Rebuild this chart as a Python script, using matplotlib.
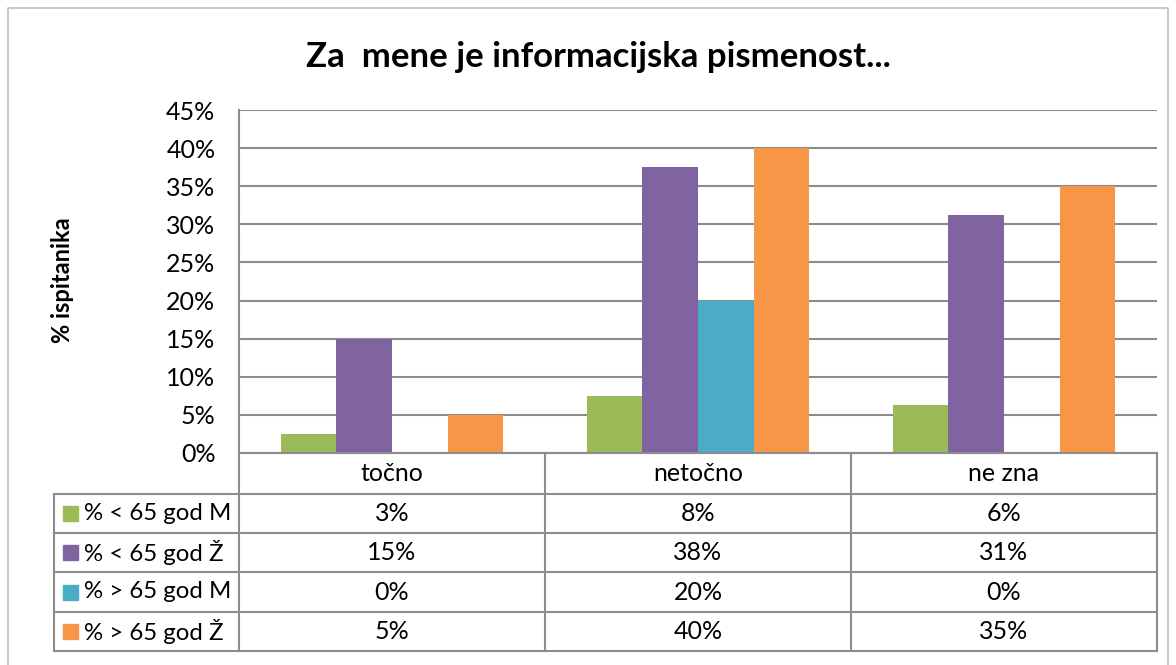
import matplotlib.pyplot as plt
import numpy as np
from matplotlib.patches import Rectangle

# podaci
categories = ["točno", "netočno", "ne zna"]
series = ["% < 65 god M", "% < 65 god Ž", "% > 65 god M", "% > 65 god Ž"]
mlad_m = [2.5, 7.5, 6.25]
mlad_z = [15, 37.5, 31.25]
star_m = [0, 20, 0]
star_z = [5, 40, 35]
values = [mlad_m, mlad_z, star_m, star_z]
colors = ["#9BBB59", "#8064A2", "#4BACC6", "#F79646"]
yticks = [0, 5, 10, 15, 20, 25, 30, 35, 40, 45]

plt.rcParams['font.family'] = ['Lato', 'DejaVu Sans']

W, H = 1176, 665
fig = plt.figure(figsize=(W / 100, H / 100), dpi=100)

def fx(px):
    return px / W

def fy(py):
    return 1 - py / H

# granice crteža u pikselima
left, right, top, bottom = 239, 1157, 110, 453
ax = fig.add_axes([fx(left), fy(bottom), fx(right) - fx(left), fy(top) - fy(bottom)])

bw = 0.182
x = np.arange(len(categories))
for i, (vals, col) in enumerate(zip(values, colors)):
    ax.bar(x + (i - 1.5) * bw, vals, width=bw, color=col, zorder=3)

ax.set_xlim(-0.5, len(categories) - 0.5)
ax.set_ylim(0, 45)
ax.set_yticks(yticks)
ax.set_yticklabels([f"{t}%" for t in yticks], fontsize=18)
ax.tick_params(axis='y', length=0, pad=17)
ax.set_xticks([])
ax.grid(axis='y', color='#8c8c8c', linewidth=1.5, zorder=0)
for s in ['top', 'right']:
    ax.spines[s].set_visible(False)
ax.spines['left'].set_color('#8c8c8c')
ax.spines['left'].set_linewidth(1.5)
ax.spines['bottom'].set_color('#8c8c8c')
ax.spines['bottom'].set_linewidth(1.5)

# naslov i oznaka osi
fig.text(fx(598), fy(57), "Za  mene je informacijska pismenost...", fontsize=25,
         fontweight='bold', ha='center', va='center')
fig.text(fx(62), fy(280), "% ispitanika", fontsize=17, fontweight='bold',
         rotation=90, ha='center', va='center')

# tablica s podacima
line_kw = dict(color='#8c8c8c', linewidth=1.5, transform=fig.transFigure)
col_edges = [left + k * (right - left) / 3 for k in range(4)]
row_edges = [453, 494, 533, 572, 612, 651]
tab_left = 54

# vertikalne linije
for cx in col_edges:
    fig.add_artist(plt.Line2D([fx(cx), fx(cx)], [fy(row_edges[0]), fy(row_edges[-1])], **line_kw))
fig.add_artist(plt.Line2D([fx(tab_left), fx(tab_left)], [fy(row_edges[1]), fy(row_edges[-1])], **line_kw))
# horizontalne linije
fig.add_artist(plt.Line2D([fx(left), fx(right)], [fy(row_edges[0]), fy(row_edges[0])], **line_kw))
for ry in row_edges[1:]:
    fig.add_artist(plt.Line2D([fx(tab_left), fx(right)], [fy(ry), fy(ry)], **line_kw))

# zaglavlje
for j, cat in enumerate(categories):
    cx = (col_edges[j] + col_edges[j + 1]) / 2
    fig.text(fx(cx), fy((row_edges[0] + row_edges[1]) / 2), cat, fontsize=18,
             ha='center', va='center')

# redovi
for i, (name, vals, col) in enumerate(zip(series, values, colors)):
    cy = (row_edges[i + 1] + row_edges[i + 2]) / 2
    fig.add_artist(Rectangle((fx(63), fy(cy + 7.5)), fx(15), 15 / H, color=col,
                             transform=fig.transFigure))
    fig.text(fx(84), fy(cy), name, fontsize=17.3, ha='left', va='center')
    for j, v in enumerate(vals):
        cx = (col_edges[j] + col_edges[j + 1]) / 2
        fig.text(fx(cx), fy(cy), f"{int(v + 0.5)}%", fontsize=18,
                 ha='center', va='center')

# okvir grafikona
fig.add_artist(plt.Line2D([fx(8), fx(8), fx(1168), fx(1168)], [0, fy(8), fy(8), 0],
                          color='#bfbfbf', linewidth=1.2, transform=fig.transFigure))

fig.savefig("out.png", dpi=100)
